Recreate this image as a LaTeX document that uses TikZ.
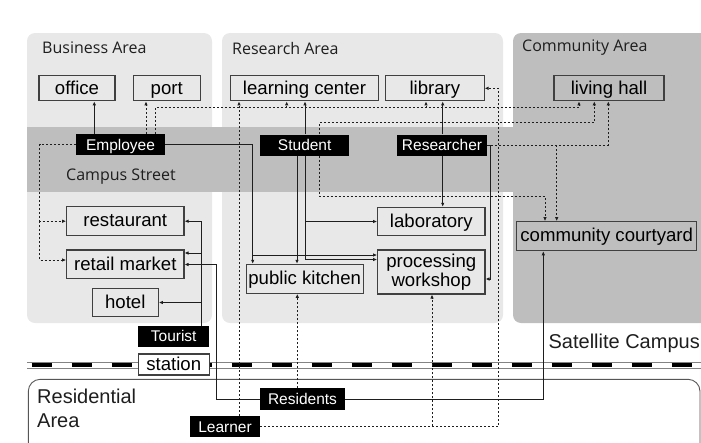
\documentclass[tikz,border=0pt]{standalone}
\usepackage{fontspec}
\setmainfont{Liberation Sans}
\newfontfamily\areafont{Open Sans}
\usepackage{tikz}
\usetikzlibrary{arrows.meta}
\definecolor{zonelight}{HTML}{E8E8E8}
\definecolor{zonedark}{HTML}{BEBEBE}
\definecolor{inkdark}{HTML}{1E1E1E}

\begin{document}
\begin{tikzpicture}[x=1pt,y=-1pt,
  zonetitle/.style={anchor=west,inner sep=0pt,text=inkdark,
    font=\areafont\fontsize{16}{16}\selectfont},
  place/.style={draw=inkdark!85,line width=1.1pt,inner sep=0pt,minimum height=25pt,
    text height=14pt,text depth=2.6pt,align=center,font=\fontsize{18.6}{18.5}\selectfont},
  role/.style={fill=black,text=white,inner sep=0pt,minimum height=21pt,
    text height=13pt,text depth=2pt,font=\fontsize{15.5}{15.5}\selectfont},
  link/.style={-{Latex[length=4pt,width=3.5pt]},line width=0.9pt,draw=inkdark},
  flow/.style={link,line width=1pt,dash pattern=on 2pt off 2pt}]
  \useasboundingbox (0,0) rectangle (701,442);

  % zones and street
  \fill[zonelight,rounded corners=8pt] (27,33) rectangle (212,323);
  \fill[zonelight,rounded corners=8pt] (222,33) rectangle (503,323);
  \fill[zonedark,rounded corners=8pt] (513,33) rectangle (716,323);
  \fill[zonedark] (27,127) rectangle (513,192);
  \node[zonetitle] (biztitle) at (42,48) {Business Area};
  \node[zonetitle] (restitle) at (232,48) {Research Area};
  \node[zonetitle] (comtitle) at (522,48) {Community Area};
  \node[zonetitle] (street) at (66,177) {Campus Street};

  % railway
  \draw[inkdark!55,line width=0.8pt] (27,362.3) -- (701,362.3) (27,368.3) -- (701,368.3);
  \draw[black,line width=4pt,dash pattern=on 20pt off 20pt] (31.7,365.3) -- (701,365.3);
  \node[anchor=east,inner sep=0pt,text=inkdark,font=\fontsize{20}{20}\selectfont]
    (satellite) at (700,343.3) {Satellite Campus};

  % residential area
  \draw[inkdark!75,line width=0.9pt,rounded corners=12pt] (28.3,379.3) rectangle (700,470);
  \node[anchor=west,inner sep=0pt,align=left,text=inkdark,font=\fontsize{20}{23.3}\selectfont]
    (residential) at (37,408.3) {Residential\\Area};

  % places
  \node[place,minimum width=76pt] (office) at (77,88.3) {office};
  \node[place,minimum width=66.7pt] (port) at (166.7,88.3) {port};
  \node[place,minimum width=147.6pt] (learning) at (304.5,88.3) {learning center};
  \node[place,minimum width=98.3pt] (library) at (434.9,88.3) {library};
  \node[place,minimum width=110pt] (living) at (609,88.3) {living hall};
  \node[place,minimum width=117.3pt,minimum height=29pt] (restaurant) at (125.3,221.2) {restaurant};
  \node[place,minimum width=117.3pt,minimum height=28.7pt] (market) at (125.3,264.3) {retail market};
  \node[place,minimum width=66pt,minimum height=28.4pt] (hotel) at (125.3,302.5) {hotel};
  \node[place,minimum width=107.3pt,minimum height=28.4pt] (lab) at (431.3,221.5) {laboratory};
  \node[place,text height={},text depth={},minimum width=107.3pt,minimum height=44pt]
    (workshop) at (431.3,272) {processing\\workshop};
  \node[place,minimum width=117.3pt,minimum height=29pt] (kitchen) at (304.7,278.8) {public kitchen};
  \node[place,minimum width=180pt,minimum height=29pt] (courtyard) at (606.7,236.2) {community courtyard};
  \node[place,fill=white,minimum width=70.7pt,minimum height=21pt] (station) at (173.7,364.5) {station};

  % people
  \node[role,minimum width=89pt] (employee) at (120.5,144.5) {Employee};
  \node[role,minimum width=89.3pt] (student) at (304.7,145) {Student};
  \node[role,minimum width=89.3pt] (researcher) at (442,145) {Researcher};
  \node[role,minimum width=70.7pt] (tourist) at (173.7,336.2) {Tourist};
  \node[role,minimum width=85pt,minimum height=21.7pt] (residents) at (302.5,399.2) {Residents};
  \node[role,minimum width=70pt,minimum height=21.6pt] (learner) at (225,426.5) {Learner};

  % employee
  \draw[link] (94.3,0 |- employee.north) -- (94.3,0 |- office.south);
  \draw[link] (employee.east) -| (252.7,0 |- kitchen.north);
  \draw[link] (252.7,255) -- (workshop.west |- 0,255);
  \draw[flow] (146,0 |- employee.north) -- (146,0 |- port.south);
  \draw[flow] (employee.west) -| (39.5,0 |- restaurant.west) -- (restaurant.west);
  \draw[flow] (39.5,0 |- restaurant.west) |- (market.west |- 0,260);
  \draw[flow] (155,0 |- employee.north) |- (579,107.7) -- (579,0 |- living.south);
  \draw[flow] (286.7,107.7) -- (286.7,0 |- learning.south);
  \draw[flow] (426,107.7) -- (426,0 |- library.south);

  % student
  \draw[link] (305,0 |- student.north) -- (305,0 |- learning.south);
  \draw[link] (297,0 |- student.south) -- (297,0 |- kitchen.north);
  \draw[link] (305,0 |- student.south) |- (workshop.west |- 0,259.5);
  \draw[link] (305,0 |- lab.west) -- (lab.west);
  \draw[flow] (319.5,0 |- student.north) |- (594.3,122.7) -- (594.3,0 |- living.south);
  \draw[flow] (319.5,0 |- student.south) |- (545,196.7) -- (545,0 |- courtyard.north);

  % researcher
  \draw[link] (442.7,0 |- researcher.north) -- (442.7,0 |- library.south);
  \draw[link] (442.7,0 |- researcher.south) -- (442.7,0 |- lab.north);
  \draw[link] (researcher.east) -| (490.7,279) -- (workshop.east |- 0,279);
  \draw[flow] (researcher.east) -| (608.3,0 |- living.south);
  \draw[flow] (556.7,0 |- researcher.east) -- (556.7,0 |- courtyard.north);

  % tourist
  \draw[link] (201,0 |- tourist.north) |- (restaurant.east);
  \draw[link] (201,253) -- (market.east |- 0,253);
  \draw[link] (201,0 |- hotel.east) -- (hotel.east);

  % residents
  \draw[link] (residents.west) -| (216,264.5) -- (market.east |- 0,264.5);
  \draw[link] (residents.east) -| (543.3,0 |- courtyard.south);
  \draw[flow] (297.3,0 |- residents.north) -- (297.3,0 |- kitchen.south);

  % learner
  \draw[flow] (239,0 |- learner.north) -- (239,0 |- learning.south);
  \draw[flow] (learner.east) -| (432,0 |- workshop.south);
  \draw[flow] (learner.east) -| (498.3,0 |- library.east) -- (library.east);
\end{tikzpicture}
\end{document}
